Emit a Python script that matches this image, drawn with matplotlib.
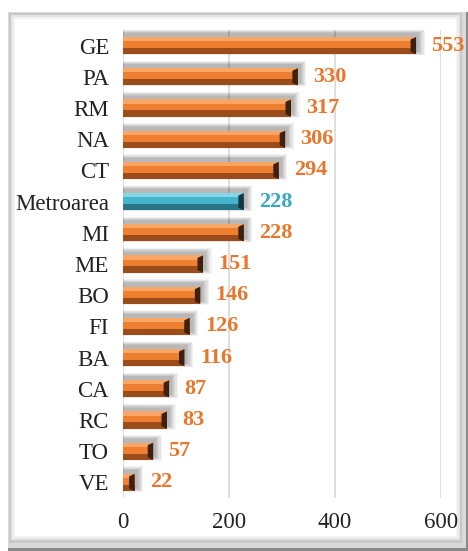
import matplotlib
matplotlib.use("Agg")
import matplotlib.pyplot as plt
from matplotlib.patches import Rectangle, Polygon
import matplotlib.transforms as mtrans
import numpy as np

categories = ["GE", "PA", "RM", "NA", "CT", "Metroarea", "MI", "ME", "BO", "FI", "BA", "CA", "RC", "TO", "VE"]
values = [553, 330, 317, 306, 294, 228, 228, 151, 146, 126, 116, 87, 83, 57, 22]
highlight = "Metroarea"
xticks = [0, 200, 400, 600]

ORANGE = "#EE7E30"
ORANGE_L = "#F8A566"
ORANGE_D = "#9A4C1A"
ORANGE_C = "#3E200C"
BLUE = "#45B5CE"
BLUE_L = "#86D6E6"
BLUE_D = "#2A7487"
BLUE_C = "#123840"
LABEL_OR = "#E8762B"
LABEL_BL = "#3AA6C0"

plt.rcParams["font.family"] = ["Liberation Serif", "DejaVu Serif"]

fig = plt.figure(figsize=(4.68, 5.51), dpi=100)
W, H = 468, 551

# Bevel frame (figure coords in pixels)
def frect(x0, y0, x1, y1, color):
    fig.patches.append(Rectangle((x0 / W, 1 - y1 / H), (x1 - x0) / W, (y1 - y0) / H,
                                 transform=fig.transFigure, facecolor=color, edgecolor="none", zorder=-10))
frect(8, 12, 468, 551, "#8a8a8a")
frect(8, 12, 466, 548, "#d9d9d9")
frect(9, 13, 462, 543, "#c8c8c8")
frect(11, 15, 460, 540, "#e4e4e4")
frect(13, 17, 458, 538, "#f2f2f2")
frect(15, 19, 456, 536, "white")

ax = fig.add_axes([123 / W, 1 - 498 / H, (441 - 123) / W, (498 - 30) / H])
ax.set_zorder(5)
ax.set_facecolor("none")
n = len(categories)
y = np.arange(n)
ax.set_ylim(n - 0.5, -0.5)
ax.set_xlim(0, 600)

for s in ax.spines.values():
    s.set_visible(False)
for xt in xticks:
    ax.axvline(xt, color="#d9d9d9", lw=1.2, zorder=0)

h = 0.55
is_hl = [c == highlight for c in categories]
base = [BLUE if b else ORANGE for b in is_hl]
light = [BLUE_L if b else ORANGE_L for b in is_hl]
dark = [BLUE_D if b else ORANGE_D for b in is_hl]
capc = [BLUE_C if b else ORANGE_C for b in is_hl]
vals = np.array(values, dtype=float)

# soft shadow (offset up and right, blurred by stacking)
for k in range(6):
    grow = (6 - k) * 0.045
    ax.barh(y - 0.1, vals + (6 - k) * 2.2 + 3, height=h + grow, color="black", alpha=0.05, zorder=1, lw=0)

ax.barh(y, vals, height=h, color=base, zorder=2, lw=0)
ax.barh(y - h * 0.38, vals, height=h * 0.24, color=light, zorder=3, lw=0)
ax.barh(y + h * 0.32, vals, height=h * 0.36, color=dark, zorder=3, lw=0)

# beveled right end caps (trapezoids), x offsets in pixels
bev = 5.5  # px
for yi, v, c in zip(y, vals, capc):
    off = mtrans.offset_copy(ax.transData, fig=fig, x=0, y=0, units="dots")
    pts_data = ax.transData.transform([(v, yi - h / 2), (v, yi + h / 2)])
    top, bot = pts_data
    w = min(bev, (top[0] - ax.transData.transform((0, 0))[0]) * 0.5)
    poly = [(top[0], top[1]), (top[0] - w, top[1] - 2.5), (bot[0] - w, bot[1] + 2.5), (bot[0], bot[1])]
    ax.add_patch(Polygon(poly, closed=True, transform=None, facecolor=c, edgecolor="none", zorder=4))
    poly2 = [(top[0] - w, top[1] - 2.5), (top[0] - w, bot[1] + 2.5), (top[0], bot[1]), (top[0], top[1])]

for yi, v, b in zip(y, values, is_hl):
    ax.annotate(str(v), (v, yi), xytext=(11, 0), textcoords="offset points",
                va="center", ha="left", fontsize=16, fontweight="bold",
                color=LABEL_BL if b else LABEL_OR, annotation_clip=False)

ax.set_yticks(y)
ax.set_yticklabels(categories, fontsize=16.5, color="#222222")
ax.set_xticks(xticks)
ax.set_xticklabels([str(t) for t in xticks], fontsize=16.5, color="#222222")
ax.tick_params(axis="both", length=0)
ax.tick_params(axis="y", pad=10)
ax.tick_params(axis="x", pad=10)

fig.savefig("out.png", dpi=100)
